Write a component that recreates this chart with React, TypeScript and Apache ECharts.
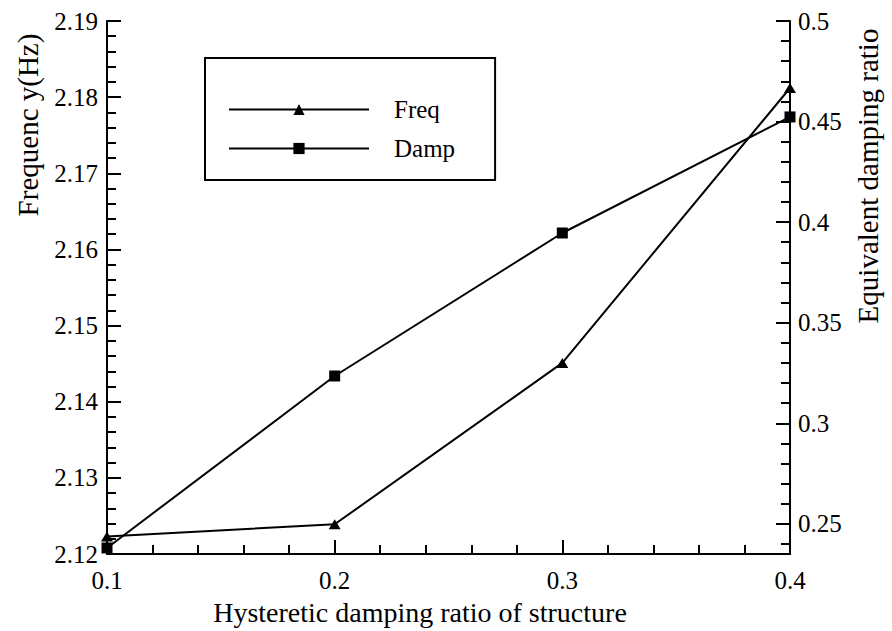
import React, { useEffect, useRef } from "react";
import * as echarts from "echarts";

const xValues = [0.1, 0.2, 0.3, 0.4];
const freqValues = [2.1223, 2.1239, 2.1451, 2.1812];
const dampValues = [0.238, 0.3235, 0.3946, 0.4523];
const seriesNames = ["Freq", "Damp"];
const xTitle = "Hysteretic damping ratio of structure";
const yLeftTitle = "Frequenc y(Hz)";
const yRightTitle = "Equivalent damping ratio";

const FONT = "Liberation Serif";

export default function App() {
  const ref = useRef<HTMLDivElement>(null);
  useEffect(() => {
    if (!ref.current) return;
    const chart = echarts.init(ref.current, undefined, { renderer: "svg" });
    const axisLine = { show: true, lineStyle: { color: "#000", width: 2 } };
    const axisTick = { show: true, inside: true, length: 14, lineStyle: { color: "#000", width: 2 } };
    const minorTick = { show: true, splitNumber: 5, length: 9, lineStyle: { color: "#000", width: 2 } };
    const label = { color: "#000", fontFamily: FONT, fontSize: 25 };
    chart.setOption({
      animation: false,
      backgroundColor: "#fff",
      textStyle: { fontFamily: FONT },
      grid: { left: 107, right: 102, top: 21, bottom: 77, containLabel: false },
      legend: {
        orient: "vertical",
        left: 205,
        top: 58,
        padding: [39, 40, 19, 23],
        itemWidth: 140,
        itemHeight: 14,
        itemGap: 14,
        borderColor: "#000",
        borderWidth: 2,
        borderRadius: 0,
        data: seriesNames,
        textStyle: { color: "#000", fontFamily: FONT, fontSize: 25, padding: [0, 0, 0, 20] },
      },
      xAxis: {
        type: "value",
        min: 0.1,
        max: 0.4,
        interval: 0.1,
        axisLine,
        axisTick,
        minorTick,
        splitLine: { show: false },
        axisLabel: { ...label, margin: 14 },
      },
      yAxis: [
        {
          type: "value",
          min: 2.12,
          max: 2.19,
          interval: 0.01,
          position: "left",
          axisLine,
          axisTick,
          minorTick,
          splitLine: { show: false },
          axisLabel: { ...label, margin: 9 },
        },
        {
          type: "value",
          min: 0.235,
          max: 0.5,
          splitNumber: 5,
          position: "right",
          axisLine,
          axisTick,
          minorTick,
          splitLine: { show: false },
          axisLabel: { ...label, margin: 8, showMinLabel: false },
        },
      ],
      graphic: [
        {
          type: "text",
          x: 420,
          y: 612,
          style: { text: xTitle, fontFamily: FONT, fontSize: 28, fill: "#000", align: "center", verticalAlign: "middle" },
        },
        {
          type: "text",
          x: 28,
          y: 125,
          rotation: Math.PI / 2,
          style: { text: yLeftTitle, fontFamily: FONT, fontSize: 29, fill: "#000", align: "center", verticalAlign: "middle" },
        },
        {
          type: "text",
          x: 868,
          y: 176,
          rotation: Math.PI / 2,
          style: { text: yRightTitle, fontFamily: FONT, fontSize: 29, fill: "#000", align: "center", verticalAlign: "middle" },
        },
      ],
      series: [
        {
          name: seriesNames[0],
          type: "line",
          yAxisIndex: 0,
          data: xValues.map((x, i) => [x, freqValues[i]]),
          symbol: "triangle",
          symbolSize: [12, 10],
          showAllSymbol: true,
          lineStyle: { color: "#000", width: 2 },
          itemStyle: { color: "#000" },
          clip: false,
        },
        {
          name: seriesNames[1],
          type: "line",
          yAxisIndex: 1,
          data: xValues.map((x, i) => [x, dampValues[i]]),
          symbol: "rect",
          symbolSize: 11,
          showAllSymbol: true,
          lineStyle: { color: "#000", width: 2 },
          itemStyle: { color: "#000" },
          clip: false,
        },
      ],
    });
    return () => chart.dispose();
  }, []);
  return <div ref={ref} style={{ width: 892, height: 631, position: "absolute", left: 0, top: 0 }} />;
}
